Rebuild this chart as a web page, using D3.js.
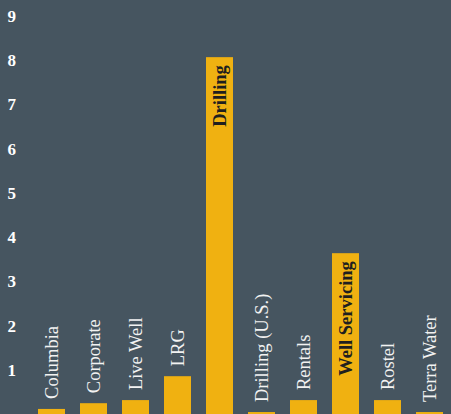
<!DOCTYPE html>
<html>
<head>
<meta charset="utf-8">
<script src="https://cdn.jsdelivr.net/npm/d3@7"></script>
<style>
  html, body { margin: 0; padding: 0; background: #465560; }
  svg { display: block; }
</style>
</head>
<body>
<div id="chart"></div>
<script>
var width = 451, height = 414;

// data
var categories = ["Columbia", "Corporate", "Live Well", "LRG", "Drilling",
                  "Drilling (U.S.)", "Rentals", "Well Servicing", "Rostel", "Terra Water"];
var values = [0.12, 0.25, 0.32, 0.86, 8.07, 0.05, 0.32, 3.64, 0.32, 0.05];
var tickValues = [1, 2, 3, 4, 5, 6, 7, 8, 9];

var bg = "#465560", barColor = "#F0B111";
var font = "'Liberation Serif', 'Times New Roman', serif";

var svg = d3.select("#chart").append("svg")
    .attr("width", width)
    .attr("height", height)
    .style("background", bg);

var x = d3.scaleBand()
    .domain(categories)
    .range([30.5, 450.5])
    .paddingInner(15 / 42)
    .paddingOuter(15 / 84);

var y = d3.scaleLinear()
    .domain([0, 9])
    .range([414.25, 16]);

// y axis: labels only
var yAxis = d3.axisLeft(y)
    .tickValues(tickValues)
    .tickSize(0)
    .tickPadding(0)
    .tickFormat(d3.format("d"));

var gy = svg.append("g")
    .attr("transform", "translate(16,0)")
    .call(yAxis);
gy.select(".domain").remove();
gy.selectAll("text")
    .attr("fill", "#ffffff")
    .style("font-family", font)
    .style("font-size", "17px")
    .style("font-weight", "bold");

var rows = categories.map(function(c, i) { return {name: c, value: values[i]}; });

svg.selectAll(".bar")
    .data(rows)
    .enter()
    .append("rect")
    .attr("class", "bar")
    .attr("x", function(d) { return x(d.name); })
    .attr("width", x.bandwidth())
    .attr("y", function(d) { return y(d.value); })
    .attr("height", function(d) { return y(0) - y(d.value); })
    .attr("fill", barColor);

// labels: inside tall bars, above short ones
svg.selectAll(".label")
    .data(rows)
    .enter()
    .append("text")
    .attr("class", "label")
    .attr("transform", function(d) {
        var cx = x(d.name) + x.bandwidth() / 2;
        var inside = d.value > 2;
        var yy = inside ? y(d.value) + 8 : y(d.value) - 10;
        return "translate(" + cx + "," + yy + ") rotate(-90)";
    })
    .attr("dy", "0.35em")
    .attr("text-anchor", function(d) { return d.value > 2 ? "end" : "start"; })
    .attr("fill", function(d) { return d.value > 2 ? "#1f1f1f" : "#f2f2f2"; })
    .style("font-family", font)
    .style("font-size", "18.5px")
    .style("font-weight", function(d) { return d.value > 2 ? "bold" : "normal"; })
    .text(function(d) { return d.name; });
</script>
</body>
</html>
